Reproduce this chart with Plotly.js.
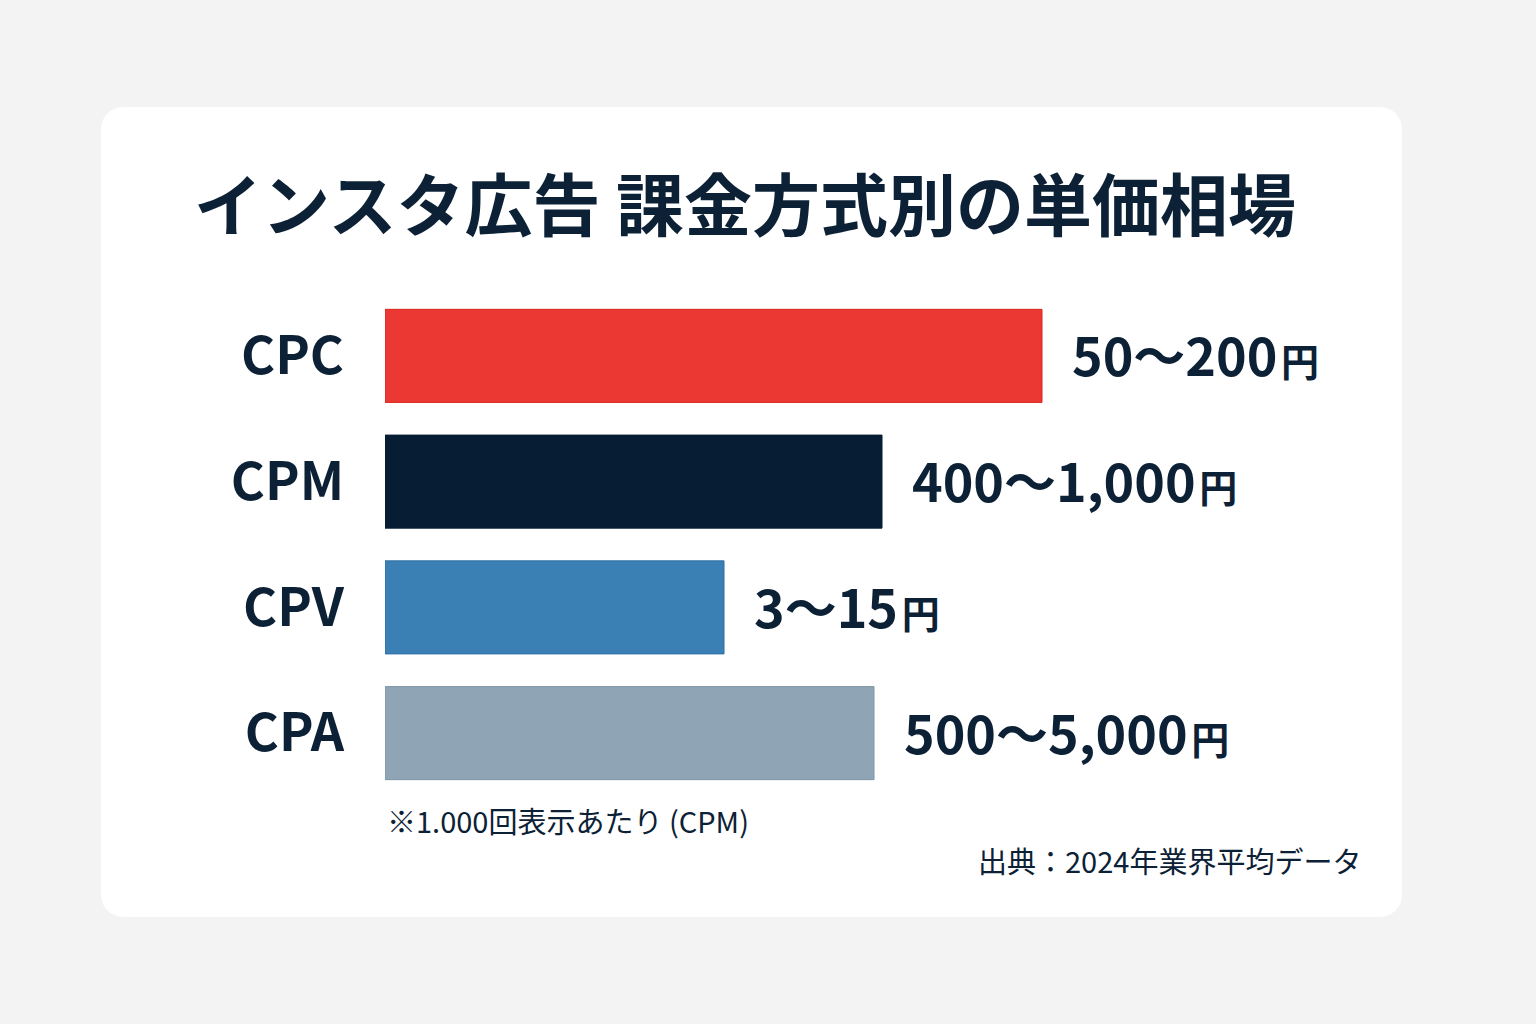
<!DOCTYPE html>
<html>
<head>
<meta charset="utf-8">
<script src="https://cdn.plot.ly/plotly-3.0.1.min.js"></script>
<style>
  html, body { margin: 0; padding: 0; background: #f3f3f3; }
  #card {
    position: absolute; left: 101px; top: 107px; width: 1301px; height: 810px;
    background: #ffffff; border-radius: 22px;
  }
  #chart { position: absolute; left: 0; top: 0; width: 1536px; height: 1024px; }
</style>
</head>
<body>
<div id="card"></div>
<div id="chart"></div>
<script>
// chart data (bar lengths as drawn in the picture)
const categories = ['CPC', 'CPM', 'CPV', 'CPA']
const barLengths = [657, 497, 339, 489]
const priceRanges = ['50〜200', '400〜1,000', '3〜15', '500〜5,000']
const unitLabel = '円'
const barColors = ['#ec3833', '#061d33', '#3a80b5', '#8fa5b5']
const barLineColors = ['#d8251f', '#061d33', '#2d6ea3', '#7f96a6']

const textColor = '#0c2135'
const font = "'Noto Sans CJK JP', 'Noto Sans', sans-serif"

const barTrace = {
  type: 'bar',
  orientation: 'h',
  y: categories,
  x: barLengths,
  width: 0.74,
  marker: { color: barColors, line: { color: barLineColors, width: 1 } },
  hoverinfo: 'skip',
}

// value labels right of each bar, 円 a bit smaller with a small gap
let annotations = categories.map((c, i) => ({
  x: barLengths[i],
  y: c,
  xref: 'x',
  yref: 'y',
  xanchor: 'left',
  yanchor: 'middle',
  xshift: 28,
  yshift: 2,
  showarrow: false,
  text: `<b>${priceRanges[i]}<span style="font-size:16px"> </span><span style="font-size:38px">${unitLabel}</span></b>`,
  font: { family: font, size: 52, color: textColor },
}))

annotations.push({
  x: 0, xref: 'x', xanchor: 'left',
  y: 0, yref: 'paper', yanchor: 'middle', yshift: -24,
  showarrow: false,
  text: '※1.000回表示あたり (CPM)',
  font: { family: font, size: 29, color: textColor },
})
annotations.push({
  x: 978, xref: 'x', xanchor: 'right',
  y: 0, yref: 'paper', yanchor: 'middle', yshift: -64,
  showarrow: false,
  text: '出典：2024年業界平均データ',
  font: { family: font, size: 29, color: textColor },
})

const layout = {
  width: 1536,
  height: 1024,
  margin: { l: 385, r: 136, t: 293, b: 228 },
  paper_bgcolor: 'rgba(0,0,0,0)',
  plot_bgcolor: 'rgba(0,0,0,0)',
  showlegend: false,
  title: {
    text: '<b>インスタ広告 課金方式別の単価相場</b>',
    x: 745 / 1536,
    xanchor: 'center',
    y: 1 - 207 / 1024,
    yanchor: 'middle',
    font: { family: font, size: 68, color: textColor },
  },
  xaxis: {
    range: [0, 1015],
    visible: false,
    fixedrange: true,
  },
  yaxis: {
    type: 'category',
    autorange: 'reversed',
    showgrid: false,
    zeroline: false,
    showline: false,
    ticks: '',
    ticklabelstandoff: 40,
    tickfont: { family: font, size: 52, color: textColor, weight: 'bold' },
    fixedrange: true,
  },
  annotations: annotations,
}

Plotly.newPlot('chart', [barTrace], layout, { displayModeBar: false, staticPlot: true })
</script>
</body>
</html>
